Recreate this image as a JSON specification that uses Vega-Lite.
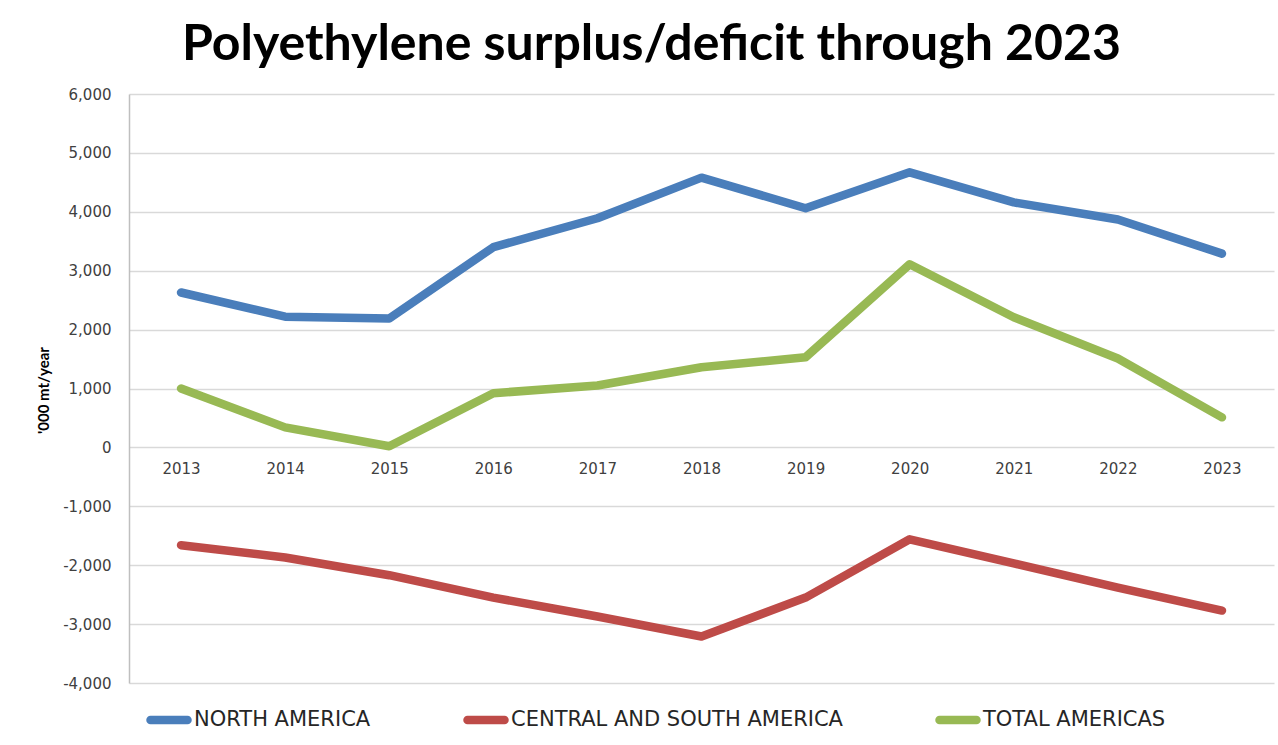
{
  "$schema": "https://vega.github.io/schema/vega-lite/v6.json",
  "width": 1145,
  "height": 589,
  "autosize": "none",
  "padding": {"left": 129, "top": 94, "right": 4, "bottom": 62},
  "background": "white",
  "title": {
    "text": "Polyethylene surplus/deficit through 2023",
    "font": "Lato",
    "fontSize": 50,
    "fontWeight": "bold",
    "color": "#000000",
    "anchor": "middle",
    "dx": -50,
    "baseline": "alphabetic",
    "offset": -23
  },
  "data": {
    "values": [
      {"year": "2013", "series": "NORTH AMERICA", "value": 2630},
      {"year": "2014", "series": "NORTH AMERICA", "value": 2220},
      {"year": "2015", "series": "NORTH AMERICA", "value": 2190},
      {"year": "2016", "series": "NORTH AMERICA", "value": 3400},
      {"year": "2017", "series": "NORTH AMERICA", "value": 3890},
      {"year": "2018", "series": "NORTH AMERICA", "value": 4580},
      {"year": "2019", "series": "NORTH AMERICA", "value": 4060},
      {"year": "2020", "series": "NORTH AMERICA", "value": 4670},
      {"year": "2021", "series": "NORTH AMERICA", "value": 4160},
      {"year": "2022", "series": "NORTH AMERICA", "value": 3870},
      {"year": "2023", "series": "NORTH AMERICA", "value": 3290},
      {"year": "2013", "series": "CENTRAL AND SOUTH AMERICA", "value": -1660},
      {"year": "2014", "series": "CENTRAL AND SOUTH AMERICA", "value": -1870},
      {"year": "2015", "series": "CENTRAL AND SOUTH AMERICA", "value": -2170},
      {"year": "2016", "series": "CENTRAL AND SOUTH AMERICA", "value": -2550},
      {"year": "2017", "series": "CENTRAL AND SOUTH AMERICA", "value": -2870},
      {"year": "2018", "series": "CENTRAL AND SOUTH AMERICA", "value": -3210},
      {"year": "2019", "series": "CENTRAL AND SOUTH AMERICA", "value": -2550},
      {"year": "2020", "series": "CENTRAL AND SOUTH AMERICA", "value": -1560},
      {"year": "2021", "series": "CENTRAL AND SOUTH AMERICA", "value": -1970},
      {"year": "2022", "series": "CENTRAL AND SOUTH AMERICA", "value": -2380},
      {"year": "2023", "series": "CENTRAL AND SOUTH AMERICA", "value": -2770},
      {"year": "2013", "series": "TOTAL AMERICAS", "value": 1000},
      {"year": "2014", "series": "TOTAL AMERICAS", "value": 340},
      {"year": "2015", "series": "TOTAL AMERICAS", "value": 20},
      {"year": "2016", "series": "TOTAL AMERICAS", "value": 920},
      {"year": "2017", "series": "TOTAL AMERICAS", "value": 1050},
      {"year": "2018", "series": "TOTAL AMERICAS", "value": 1360},
      {"year": "2019", "series": "TOTAL AMERICAS", "value": 1530},
      {"year": "2020", "series": "TOTAL AMERICAS", "value": 3110},
      {"year": "2021", "series": "TOTAL AMERICAS", "value": 2210},
      {"year": "2022", "series": "TOTAL AMERICAS", "value": 1510},
      {"year": "2023", "series": "TOTAL AMERICAS", "value": 510}
    ]
  },
  "mark": {"type": "line", "strokeWidth": 8.5, "strokeCap": "round", "strokeJoin": "round"},
  "encoding": {
    "x": {
      "field": "year",
      "type": "ordinal",
      "scale": {"type": "point", "padding": 0.5},
      "axis": {
        "title": null,
        "offset": -236,
        "domain": false,
        "ticks": false,
        "grid": false,
        "labelAngle": 0,
        "labelFont": "DejaVu Sans",
        "labelFontSize": 15,
        "labelColor": "#404040",
        "labelPadding": 14
      }
    },
    "y": {
      "field": "value",
      "type": "quantitative",
      "scale": {"domain": [-4000, 6000], "nice": false},
      "axis": {
        "values": [-4000, -3000, -2000, -1000, 0, 1000, 2000, 3000, 4000, 5000, 6000],
        "format": ",d",
        "labelExpr": "replace(datum.label, '−', '-')",
        "title": "'000 mt/year",
        "titleFont": "Lato",
        "titleFontSize": 15,
        "titleFontWeight": "bold",
        "titleColor": "#000000",
        "titleX": -78,
        "titleY": 296,
        "titleAlign": "center",
        "domain": true,
        "domainColor": "#bfbfbf",
        "domainWidth": 1.5,
        "ticks": false,
        "grid": true,
        "gridColor": "#d9d9d9",
        "gridWidth": 1.5,
        "labelFont": "DejaVu Sans",
        "labelFontSize": 15,
        "labelColor": "#404040",
        "labelPadding": 18
      }
    },
    "color": {
      "field": "series",
      "type": "nominal",
      "scale": {
        "domain": ["NORTH AMERICA", "CENTRAL AND SOUTH AMERICA", "TOTAL AMERICAS"],
        "range": ["#4a7ebb", "#be4b48", "#98b954"]
      },
      "legend": {
        "title": null,
        "orient": "none",
        "direction": "horizontal",
        "legendX": 17,
        "legendY": 603,
        "symbolType": "stroke",
        "symbolStrokeWidth": 8.5,
        "symbolSize": 1369,
        "labelFont": "DejaVu Sans",
        "labelFontSize": 21,
        "labelColor": "#262626",
        "labelLimit": 500,
        "labelOffset": 2,
        "columnPadding": 79,
        "encode": {
          "symbols": {"update": {"strokeCap": {"value": "round"}}}
        }
      }
    }
  },
  "config": {
    "view": {"stroke": null}
  }
}
